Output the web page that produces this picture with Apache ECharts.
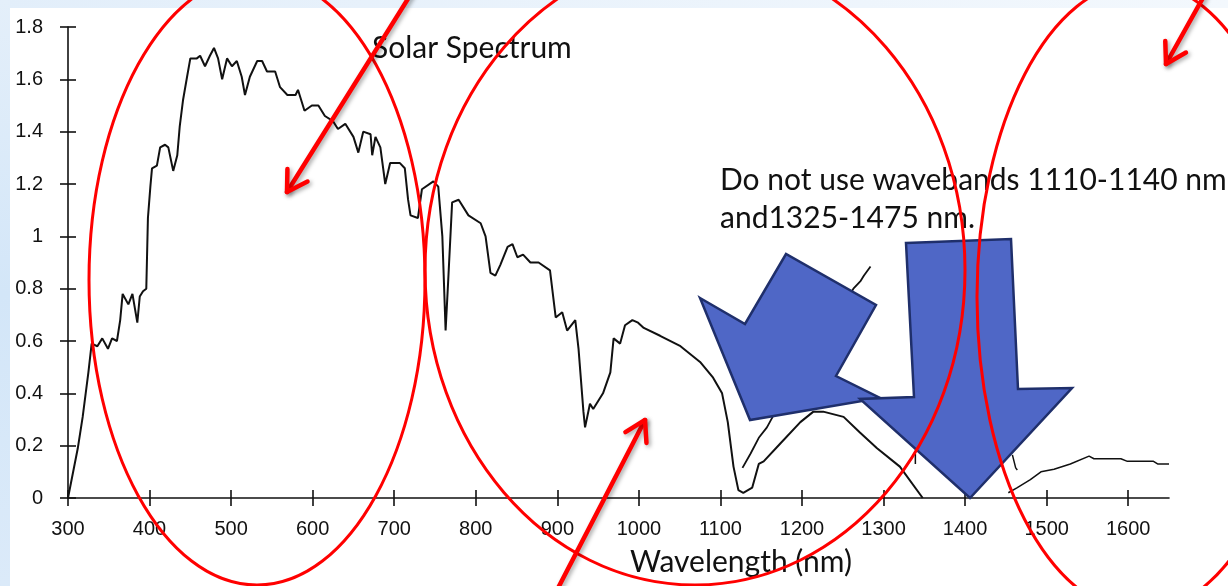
<!DOCTYPE html>
<html><head><meta charset="utf-8">
<script src="https://cdn.jsdelivr.net/npm/echarts@6/dist/echarts.min.js"></script>
<style>html,body{margin:0;padding:0;background:#fff;}#c{width:1228px;height:586px;}</style>
</head><body><div id="c"></div>
<script>
const xTicks = [300,400,500,600,700,800,900,1000,1100,1200,1300,1400,1500,1600];
const yTicks = [0,0.2,0.4,0.6,0.8,1,1.2,1.4,1.6,1.8];

const spectrumMain = [[300,0],[312,0.19],[318,0.31],[325,0.48],[329,0.59],[336,0.58],[342,0.61],[349,0.57],[354,0.61],[360,0.60],[364,0.68],[367,0.78],[374,0.74],[379,0.78],[385,0.67],[388,0.77],[392,0.79],[396,0.80],[398,1.07],[401,1.19],[403,1.26],[409,1.27],[413,1.34],[419,1.35],[423,1.34],[429,1.25],[434,1.31],[437,1.42],[441,1.52],[446,1.61],[450,1.68],[458,1.68],[462,1.69],[468,1.65],[474,1.69],[479,1.72],[484,1.68],[489,1.60],[495,1.68],[501,1.65],[507,1.67],[513,1.61],[517,1.54],[523,1.61],[532,1.67],[538,1.67],[544,1.63],[554,1.63],[560,1.57],[569,1.54],[579,1.54],[582,1.56],[590,1.48],[599,1.50],[607,1.50],[615,1.46],[625,1.44],[631,1.41],[640,1.43],[650,1.38],[656,1.32],[662,1.40],[671,1.39],[673,1.31],[677,1.38],[683,1.34],[689,1.20],[695,1.28],[707,1.28],[713,1.26],[717,1.14],[720,1.08],[729,1.07],[734,1.18],[748,1.21],[754,1.19],[759,1.00],[763,0.64],[766,0.82],[771,1.13],[779,1.14],[791,1.08],[806,1.05],[812,1.00],[818,0.86],[824,0.85],[830,0.89],[839,0.96],[845,0.97],[851,0.92],[858,0.93],[867,0.90],[877,0.90],[891,0.87],[898,0.69],[906,0.71],[912,0.64],[922,0.68],[926,0.57],[932,0.33],[934,0.27],[940,0.36],[944,0.34],[956,0.40],[965,0.48],[969,0.61],[977,0.59],[983,0.66],[992,0.68],[999,0.67],[1006,0.65],[1026,0.62],[1051,0.58],[1075,0.52],[1091,0.46],[1102,0.40],[1109,0.29],[1116,0.12],[1122,0.03],[1128,0.02],[1139,0.04],[1147,0.13],[1153,0.14],[1174,0.21],[1198,0.29],[1214,0.33],[1226,0.33],[1251,0.31],[1271,0.25],[1292,0.19],[1320,0.12],[1348,0]];
const branchUpper = [[1127,0.115],[1137,0.17],[1147,0.23],[1157,0.27],[1164,0.31],[1263,0.80],[1272,0.83],[1276,0.85],[1284,0.885]];
const fragmentA = [[1339,0.17],[1339,0.13]];
const fragmentB = [[1458,0.165],[1460,0.14],[1462,0.115],[1464,0.107]];
const spectrumTail = [[1453,0.02],[1464,0.04],[1480,0.07],[1493,0.10],[1509,0.11],[1529,0.13],[1552,0.16],[1558,0.15],[1591,0.15],[1599,0.14],[1631,0.14],[1636,0.13],[1650,0.13]];

const chart = echarts.init(document.getElementById('c'), null, {renderer:'canvas'});

const axisCol = '#111';
const tickFont = {fontFamily:'Liberation Sans', fontSize:20, color:'#111'};
const textFont = 'Lato';

function lineSeries(data, w){
  return {type:'line', data:data, xAxisIndex:0, yAxisIndex:0, showSymbol:false, symbol:'none',
    lineStyle:{color:'#111', width:w}, animation:false, silent:true, z:2};
}

function redArrow(x1,y1,x2,y2){
  const dx = x1-x2, dy = y1-y2, L = Math.hypot(dx,dy);
  const ux = dx/L, uy = dy/L, a = 31*Math.PI/180, bl = 23;
  const b1 = [x2 + bl*(ux*Math.cos(a) - uy*Math.sin(a)), y2 + bl*(ux*Math.sin(a) + uy*Math.cos(a))];
  const b2 = [x2 + bl*(ux*Math.cos(-a) - uy*Math.sin(-a)), y2 + bl*(ux*Math.sin(-a) + uy*Math.cos(-a))];
  const st = {stroke:'#f00', lineWidth:4.5, lineCap:'round', lineJoin:'round', fill:null,
    shadowBlur:4, shadowColor:'rgba(0,0,0,0.35)', shadowOffsetX:2, shadowOffsetY:2};
  return [
    {type:'polyline', z:30, shape:{points:[[x1,y1],[x2,y2]]}, style:st},
    {type:'polyline', z:30, shape:{points:[b1,[x2,y2],b2]}, style:st}
  ];
}

const blueStyle = {fill:'#4f67c6', stroke:'#1f2f6b', lineWidth:2.5, lineJoin:'miter'};

const graphics = [
  {type:'rect', z:-5, shape:{x:0,y:0,width:1228,height:8}, style:{fill:new echarts.graphic.LinearGradient(0,0,1,0,[{offset:0,color:'#e2eefa'},{offset:1,color:'#f3f8fd'}])}},
  {type:'rect', z:-5, shape:{x:0,y:0,width:10,height:586}, style:{fill:new echarts.graphic.LinearGradient(0,0,0,1,[{offset:0,color:'#e4effa'},{offset:0.5,color:'#d3e6f8'},{offset:1,color:'#dbeaf9'}])}},
  {type:'text', z:5, style:{text:'Solar Spectrum', x:372, y:48, fontFamily:textFont, fontSize:30, fill:'#111', textVerticalAlign:'middle'}},
  {type:'text', z:5, style:{text:'Do not use wavebands 1110-1140 nm', x:720, y:180, fontFamily:textFont, fontSize:30, fill:'#111', textVerticalAlign:'middle'}},
  {type:'text', z:5, style:{text:'and1325-1475 nm.', x:720, y:218, fontFamily:textFont, fontSize:30, fill:'#111', textVerticalAlign:'middle'}},
  {type:'text', z:5, style:{text:'Wavelength (nm)', x:741, y:562, fontFamily:textFont, fontSize:30, fill:'#111', textAlign:'center', textVerticalAlign:'middle'}},
  {type:'polygon', z:10, shape:{points:[[700,298],[745,324],[786,254],[876,305],[836,376],[880,398],[750,420]]}, style:blueStyle},
  {type:'polygon', z:11, shape:{points:[[906,243],[1011,239],[1018,389],[1072,388],[970,498],[860,399],[914,397]]}, style:blueStyle},
  {type:'ellipse', z:20, shape:{cx:257, cy:280, rx:168, ry:305}, style:{fill:null, stroke:'#f00', lineWidth:3}},
  {type:'ellipse', z:20, shape:{cx:695, cy:270, rx:270, ry:315}, style:{fill:null, stroke:'#f00', lineWidth:3}},
  {type:'ellipse', z:20, shape:{cx:1140, cy:297, rx:163, ry:315}, style:{fill:null, stroke:'#f00', lineWidth:3}}
].concat(redArrow(411,-6,287,192), redArrow(1204,-4,1166,64), redArrow(556,592,645,420));

const xCommon = {type:'value', min:300, max:1650, interval:100, splitLine:{show:false}};
const yCommon = {type:'value', min:0, max:1.8, interval:0.2, splitLine:{show:false}};

chart.setOption({
  backgroundColor:'#fff',
  animation:false,
  grid:{left:68, right:59, top:27, bottom:88, containLabel:false},
  xAxis:[
    Object.assign({}, xCommon, {position:'bottom',
      axisLine:{show:true, onZero:false, lineStyle:{color:axisCol, width:1.6}},
      axisTick:{show:true, inside:false, length:8, customValues:xTicks, lineStyle:{color:axisCol, width:1.6}},
      axisLabel:{show:true, margin:21, customValues:xTicks, formatter:(v)=>String(v), ...tickFont}}),
    Object.assign({}, xCommon, {position:'bottom',
      axisLine:{show:false, onZero:false},
      axisTick:{show:true, inside:true, length:8, customValues:xTicks, lineStyle:{color:axisCol, width:1.6}},
      axisLabel:{show:false}})
  ],
  yAxis:[
    Object.assign({}, yCommon, {position:'left',
      axisLine:{show:true, onZero:false, lineStyle:{color:axisCol, width:1.6}},
      axisTick:{show:true, inside:false, length:8, customValues:yTicks, lineStyle:{color:axisCol, width:1.6}},
      axisLabel:{show:true, margin:25, customValues:yTicks, formatter:(v)=>String(Math.round(v*10)/10), ...tickFont}}),
    Object.assign({}, yCommon, {position:'left',
      axisLine:{show:false, onZero:false},
      axisTick:{show:true, inside:true, length:8, customValues:yTicks, lineStyle:{color:axisCol, width:1.6}},
      axisLabel:{show:false}})
  ],
  series:[
    lineSeries(spectrumMain, 2),
    lineSeries(branchUpper, 1.8),
    lineSeries(fragmentA, 1.5),
    lineSeries(fragmentB, 1.5),
    lineSeries(spectrumTail, 1.5)
  ],
  graphic:graphics
});
</script></body></html>
